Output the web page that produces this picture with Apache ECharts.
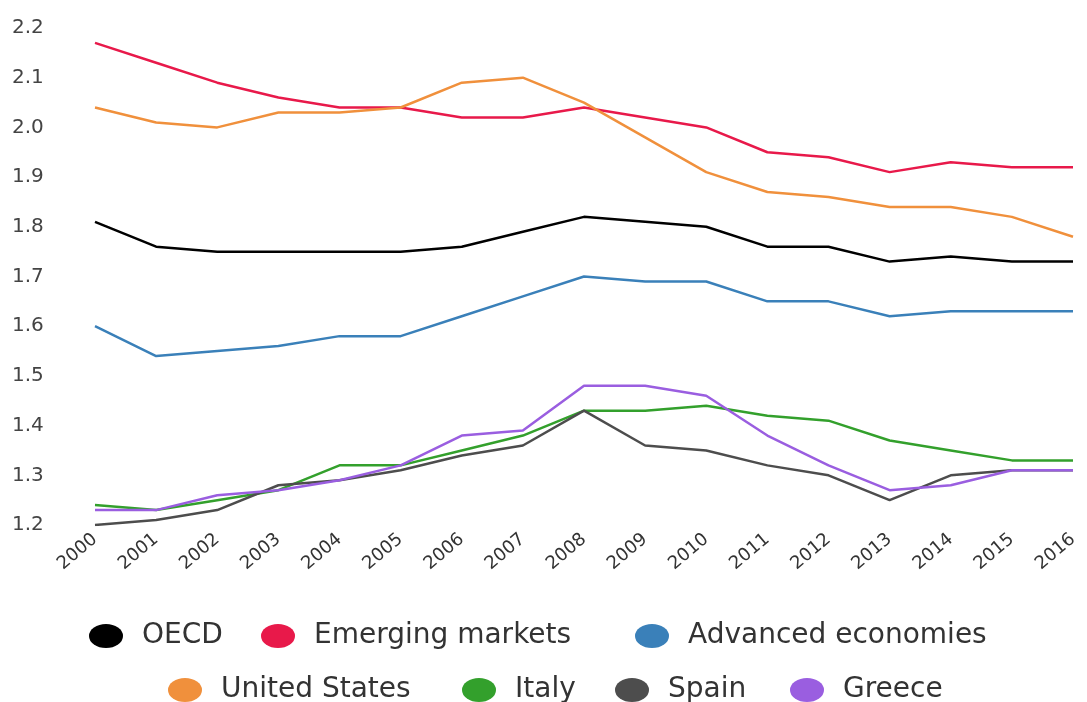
<!DOCTYPE html>
<html>
<head>
<meta charset="utf-8">
<script src="https://cdn.jsdelivr.net/npm/echarts@6/dist/echarts.min.js"></script>
<style>html,body{margin:0;padding:0;background:#fff}#c{width:1087px;height:702px}</style>
</head>
<body>
<div id="c"></div>
<script>
var years = ['2000','2001','2002','2003','2004','2005','2006','2007','2008','2009','2010','2011','2012','2013','2014','2015','2016'];
var oecd      = [1.81,1.76,1.75,1.75,1.75,1.75,1.76,1.79,1.82,1.81,1.80,1.76,1.76,1.73,1.74,1.73,1.73];
var emerging  = [2.17,2.13,2.09,2.06,2.04,2.04,2.02,2.02,2.04,2.02,2.00,1.95,1.94,1.91,1.93,1.92,1.92];
var advanced  = [1.60,1.54,1.55,1.56,1.58,1.58,1.62,1.66,1.70,1.69,1.69,1.65,1.65,1.62,1.63,1.63,1.63];
var us        = [2.04,2.01,2.00,2.03,2.03,2.04,2.09,2.10,2.05,1.98,1.91,1.87,1.86,1.84,1.84,1.82,1.78];
var italy     = [1.24,1.23,1.25,1.27,1.32,1.32,1.35,1.38,1.43,1.43,1.44,1.42,1.41,1.37,1.35,1.33,1.33];
var spain     = [1.20,1.21,1.23,1.28,1.29,1.31,1.34,1.36,1.43,1.36,1.35,1.32,1.30,1.25,1.30,1.31,1.31];
var greece    = [1.23,1.23,1.26,1.27,1.29,1.32,1.38,1.39,1.48,1.48,1.46,1.38,1.32,1.27,1.28,1.31,1.31];

var names  = ['OECD','Emerging markets','Advanced economies','United States','Italy','Spain','Greece'];
var values = [oecd, emerging, advanced, us, italy, spain, greece];
var colors = ['#000000','#e8194a','#3a80b9','#f0903c','#33a02c','#4d4d4d','#9a5ee0'];

// legend placement (left edge of each item, and row top)
var legendLeft = [84, 256, 630, 163, 457, 610, 785];
var legendTop  = [617, 617, 617, 671, 671, 671, 671];

var ellipse = 'path://M0,10 A10,10 0 1,1 20,10 A10,10 0 1,1 0,10 Z';
var legends = names.map(function(n, i){
  return {data:[{name:n, icon:ellipse}], left:legendLeft[i], top:legendTop[i],
    symbolKeepAspect:false, itemWidth:34, itemHeight:24, orient:'horizontal',
    textStyle:{fontFamily:'DejaVu Sans', fontSize:28, color:'#333', padding:[0,0,0,14]}};
});

var chart = echarts.init(document.getElementById('c'));
chart.setOption({
  animation:false,
  color: colors,
  grid:{left:95, right:14, top:28, bottom:177},
  legend: legends,
  xAxis:{type:'category', data:years, boundaryGap:false,
    axisLine:{show:false}, axisTick:{show:false}, splitLine:{show:false},
    axisLabel:{rotate:40, interval:0, margin:12, fontFamily:'DejaVu Sans', fontSize:18, color:'#333'}},
  yAxis:{type:'value', min:1.2, max:2.2, interval:0.1,
    axisLine:{show:false}, axisTick:{show:false}, splitLine:{show:false},
    axisLabel:{align:'left', margin:83, fontFamily:'DejaVu Sans', fontSize:20, color:'#444',
      formatter:function(v){return v.toFixed(1);}}},
  series: names.map(function(n,i){
    return {name:n, type:'line', data:values[i], showSymbol:false, symbol:'none',
      lineStyle:{width:2.5, color:colors[i]}, itemStyle:{color:colors[i]}};
  })
});
</script>
</body>
</html>
